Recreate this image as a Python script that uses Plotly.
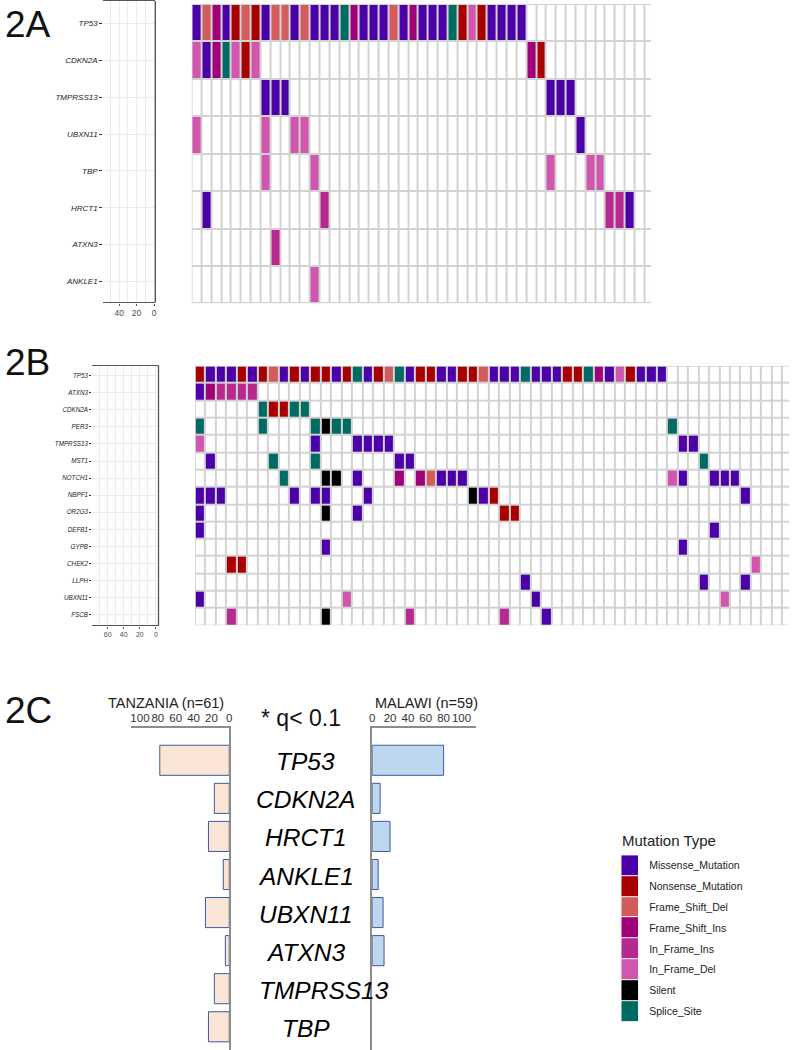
import plotly.graph_objects as go

W, H = 792, 1050
def px(x): return x / W
def py(y): return 1 - y / H

FONT = "Liberation Sans, Arial, sans-serif"

# ---------------- mutation classes ----------------
mut_types = ["Missense_Mutation", "Nonsense_Mutation", "Frame_Shift_Del", "Frame_Shift_Ins",
             "In_Frame_Ins", "In_Frame_Del", "Silent", "Splice_Site"]
mut_codes = ["M", "N", "D", "I", "i", "d", "S", "P"]
mut_colors = ["#4B00A8", "#A80000", "#D35B5B", "#A1007B", "#B62A90", "#D056AE", "#000000", "#006B62"]

# ---------------- 2A data ----------------
genes_2a = ["TP53", "CDKN2A", "TMPRSS13", "UBXN11", "TBP", "HRCT1", "ATXN3", "ANKLE1"]
n_samples_2a = 47
runs_2a = {"TP53": "MDIMNDNMDDMDMMMPIMMMDMIMMMPNdNMMMM"}
sparse_2a = {
    "CDKN2A": "1d 2M 3I 4P 5d 6N 7d 35I 36N",
    "TMPRSS13": "8M 9M 10M 37M 38M 39M",
    "UBXN11": "1d 8d 11d 12d 40M",
    "TBP": "8d 13d 37d 41d 42d",
    "HRCT1": "2M 14i 43i 44i 45M",
    "ATXN3": "9i",
    "ANKLE1": "13d",
}
ticks_2a = [0, 20, 40]

# ---------------- 2B data ----------------
genes_2b = ["TP53", "ATXN3", "CDKN2A", "PER3", "TMPRSS13", "MST1", "NOTCH1", "NBPF1",
            "OR2G3", "DEFB1", "GYPB", "CHEK2", "LLPH", "UBXN11", "FSCB"]
n_samples_2b = 57
runs_2b = {"TP53": "NMMMNMNDMN" "MNNMNPMNDP" "MNNMMNNDMM" "MPMMMNNPIM" "dNMMM",
           "ATXN3": "MIiiii"}
sparse_2b = {
    "CDKN2A": "7P 8N 9N 10P 11P",
    "PER3": "1P 7P 12P 13S 14P 15P 46P",
    "TMPRSS13": "1d 12M 16M 17M 18M 19M 47M 48M",
    "MST1": "2M 8P 12P 20M 21M 49P",
    "NOTCH1": "9P 13S 14S 16M 20I 22I 23D 24M 25M 26M 46d 47M 50M 51M 52M",
    "NBPF1": "1M 2M 3M 10M 12M 13M 17M 27S 28M 29N 53M",
    "OR2G3": "1M 13S 16M 30N 31N",
    "DEFB1": "1M 50M",
    "GYPB": "13M 47M",
    "CHEK2": "4N 5N 54d",
    "LLPH": "32M 49M 53M",
    "UBXN11": "1M 15d 33M 51d",
    "FSCB": "4i 13S 21i 30i 34M",
}
ticks_2b = [0, 20, 40, 60, 80]

# ---------------- 2C data ----------------
genes_2c = ["TP53", "CDKN2A", "HRCT1", "ANKLE1", "UBXN11", "ATXN3", "TMPRSS13", "TBP"]
tanzania_pct = [77.8, 16.7, 23.3, 6.7, 26.7, 4.4, 16.7, 23.3]
malawi_pct = [80.0, 8.9, 20.0, 6.7, 12.2, 13.3, 0, 0]
pct_ticks = [0, 20, 40, 60, 80, 100]

# ---------------- helpers ----------------
code_index = {c: i + 1 for i, c in enumerate(mut_codes)}

def build(genes, n, runs, sparse):
    z = []
    for g in genes:
        row = [0] * n
        for j, c in enumerate(runs.get(g, "")):
            row[j] = code_index[c]
        for tok in sparse.get(g, "").split():
            row[int(tok[:-1]) - 1] = code_index[tok[-1]]
        z.append(row)
    return z

palette = ["#FFFFFF"] + mut_colors
cscale = []
for k, c in enumerate(palette):
    cscale += [[k / 9, c], [(k + 1) / 9, c]]

z2a = build(genes_2a, n_samples_2a, runs_2a, sparse_2a)
z2b = build(genes_2b, n_samples_2b, runs_2b, sparse_2b)

fig = go.Figure()
hm = dict(colorscale=cscale, zmin=-0.5, zmax=8.5, showscale=False, hoverinfo="skip")
fig.add_trace(go.Heatmap(z=z2a, x=list(range(1, n_samples_2a + 1)), y=list(range(len(genes_2a))),
                         xgap=2, ygap=2, xaxis="x", yaxis="y", **hm))
fig.add_trace(go.Heatmap(z=z2b, x=list(range(1, n_samples_2b + 1)), y=list(range(len(genes_2b))),
                         xgap=2, ygap=2, xaxis="x3", yaxis="y3", **hm))
# empty side panels
fig.add_trace(go.Scatter(x=[], y=[], xaxis="x2", yaxis="y2"))
fig.add_trace(go.Scatter(x=[], y=[], xaxis="x4", yaxis="y4"))
# 2C bars
fig.add_trace(go.Bar(x=tanzania_pct, y=list(range(len(genes_2c))), orientation="h", width=0.79,
                     marker=dict(color="#FBE5D6",
                                 line=dict(color="#3B5A9A", width=[1 if v > 0 else 0 for v in tanzania_pct])),
                     xaxis="x5", yaxis="y5", hoverinfo="skip"))
fig.add_trace(go.Bar(x=malawi_pct, y=list(range(len(genes_2c))), orientation="h", width=0.79,
                     marker=dict(color="#BDD7EE",
                                 line=dict(color="#3B5A9A", width=[1 if v > 0 else 0 for v in malawi_pct])),
                     xaxis="x6", yaxis="y6", hoverinfo="skip"))
# legend as a heatmap column
fig.add_trace(go.Heatmap(z=[[k + 1] for k in range(len(mut_types))], x=[0], y=list(range(len(mut_types))),
                         ygap=1, xaxis="x7", yaxis="y7", **hm))

def blank(**kw):
    d = dict(showgrid=False, zeroline=False, showticklabels=False, ticks="", showline=False, fixedrange=True)
    d.update(kw)
    return d

GRIDC = "#ebebeb"
lay = dict(
    width=W, height=H, margin=dict(l=0, r=0, t=0, b=0),
    paper_bgcolor="white", plot_bgcolor="white", showlegend=False,
    font=dict(family=FONT, color="#222"),
    # 2A grid
    xaxis=blank(domain=[px(190), px(653)], range=[0.5, 47.18], anchor="y"),
    yaxis=blank(domain=[py(302.7), py(3)], range=[7.5, -0.5], anchor="x"),
    # 2A side panel
    xaxis2=blank(domain=[px(101), px(153.5)], range=[58.3, -1.5], anchor="y2",
                 tickmode="array", tickvals=ticks_2a, showticklabels=True, ticks="outside", ticklen=2,
                 tickcolor="#555", tickfont=dict(size=8.5, color="#4d4d4d"), tickangle=0,
                 showgrid=True, gridcolor=GRIDC, showline=True, mirror=True, linecolor="#555", linewidth=1.3,
                 minor=dict(tickmode="array", tickvals=[10, 30, 50], showgrid=True, gridcolor=GRIDC, ticks="")),
    yaxis2=blank(domain=[py(301.7), py(0)], range=[7.57, -0.616], anchor="x2",
                 tickmode="array", tickvals=list(range(len(genes_2a))), ticktext=genes_2a,
                 showticklabels=True, ticks="outside", ticklen=3, tickcolor="#333",
                 tickfont=dict(size=8, style="italic", color="#1a1a1a"), showgrid=True, gridcolor=GRIDC),
    # 2B grid
    xaxis3=blank(domain=[px(193.3), 1.0], range=[0.5, 57.14], anchor="y3"),
    yaxis3=blank(domain=[py(625), py(365)], range=[14.5, -0.5], anchor="x3"),
    # 2B side panel
    xaxis4=blank(domain=[px(90), px(156.7)], range=[79.1, -3.34], anchor="y4",
                 tickmode="array", tickvals=ticks_2b, showticklabels=True, ticks="outside", ticklen=2,
                 tickcolor="#555", tickfont=dict(size=7, color="#4d4d4d"), tickangle=0,
                 showgrid=True, gridcolor=GRIDC, showline=True, mirror=True, linecolor="#555", linewidth=1.3,
                 minor=dict(tickmode="array", tickvals=[10, 30, 50, 70], showgrid=True, gridcolor=GRIDC, ticks="")),
    yaxis4=blank(domain=[py(625), py(365)], range=[14.63, -0.585], anchor="x4",
                 tickmode="array", tickvals=list(range(len(genes_2b))), ticktext=genes_2b,
                 showticklabels=True, ticks="outside", ticklen=2, tickcolor="#333",
                 tickfont=dict(size=6.3, style="italic", color="#1a1a1a"), showgrid=True, gridcolor=GRIDC),
    # 2C left (Tanzania)
    xaxis5=blank(domain=[px(129), px(228)], range=[110, 0], anchor="y5", side="top",
                 tickmode="array", tickvals=pct_ticks, showticklabels=True, tickangle=0,
                 tickfont=dict(size=11.5, color="#333"), showline=True, linecolor="#8c8c8c", linewidth=2),
    yaxis5=blank(domain=[0, py(728)], range=[7.61, -0.84], anchor="x5", side="right",
                 showline=True, linecolor="#8c8c8c", linewidth=2),
    # 2C right (Malawi)
    xaxis6=blank(domain=[px(372), px(477)], range=[0, 116.7], anchor="y6", side="top",
                 tickmode="array", tickvals=pct_ticks, showticklabels=True, tickangle=0,
                 tickfont=dict(size=11.5, color="#333"), showline=True, linecolor="#8c8c8c", linewidth=2),
    yaxis6=blank(domain=[0, py(728)], range=[7.61, -0.84], anchor="x6", side="left",
                 showline=True, linecolor="#8c8c8c", linewidth=2),
    # legend column
    xaxis7=blank(domain=[px(623), px(640)], range=[-0.5, 0.5], anchor="y7"),
    yaxis7=blank(domain=[py(1021.7), py(855)], range=[7.5, -0.5], anchor="x7", side="right",
                 tickmode="array", tickvals=list(range(len(mut_types))), ticktext=mut_types,
                 showticklabels=True, tickfont=dict(size=10.5, color="#222"), ticklabelstandoff=10),
)
fig.update_layout(**lay)

shapes = [
    dict(type="rect", xref="x", yref="y", x0=0.5, x1=n_samples_2a + 0.5, y0=-0.5, y1=len(genes_2a) - 0.5,
         fillcolor="#d2d2d2", line=dict(width=0), layer="below"),
    dict(type="rect", xref="x3", yref="y3", x0=0.5, x1=n_samples_2b + 0.5, y0=-0.5, y1=len(genes_2b) - 0.5,
         fillcolor="#d2d2d2", line=dict(width=0), layer="below"),
    dict(type="line", xref="paper", yref="paper", x0=px(153.5), x1=px(153.5), y0=py(301.7), y1=py(0),
         line=dict(color="#555", width=1.3)),
    dict(type="line", xref="paper", yref="paper", x0=px(156.7), x1=px(156.7), y0=py(625), y1=py(365),
         line=dict(color="#555", width=1.3)),
]
fig.update_layout(shapes=shapes)

ann = [
    dict(text="2A", x=0, y=py(24), xanchor="left", yanchor="middle", font=dict(size=37, color="#111")),
    dict(text="2B", x=0, y=py(362), xanchor="left", yanchor="middle", font=dict(size=37, color="#111")),
    dict(text="2C", x=0, y=py(710), xanchor="left", yanchor="middle", font=dict(size=37, color="#111")),
    dict(text="TANZANIA (n=61)", x=px(164), y=py(703), xanchor="center", yanchor="middle",
         font=dict(size=14.5, color="#222")),
    dict(text="MALAWI (n=59)", x=px(427), y=py(703), xanchor="center", yanchor="middle",
         font=dict(size=14.5, color="#222")),
    dict(text="* q< 0.1", x=px(300), y=py(718), xanchor="center", yanchor="middle",
         font=dict(size=23, color="#111")),
    dict(text="Mutation Type", x=px(622), y=py(840), xanchor="left", yanchor="middle",
         font=dict(size=15, color="#222")),
]
for i, g in enumerate(genes_2c):
    cx = 323 if g == "TMPRSS13" else 305
    ann.append(dict(text=g, xref="paper", yref="y5", x=px(cx), y=i + 0.04, xanchor="center",
                    yanchor="middle", font=dict(size=24.5, style="italic", color="#000")))
for a in ann:
    a.setdefault("xref", "paper")
    a.setdefault("yref", "paper")
    a["showarrow"] = False
fig.update_layout(annotations=ann)

fig.write_html("out.html", config={"displayModeBar": False},
               post_script="document.body.style.margin='0';document.body.style.overflow='hidden';")
